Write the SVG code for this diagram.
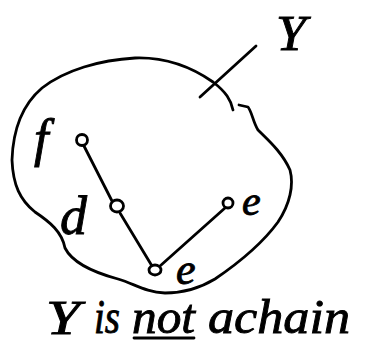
<svg xmlns="http://www.w3.org/2000/svg" width="367" height="350" viewBox="0 0 367 350">
<style>
.ln{fill:none;stroke:#000;stroke-width:2.8;stroke-linecap:round;stroke-linejoin:round}
.nd{fill:#fff;stroke:#000;stroke-width:2.8}
.t{font-family:"Liberation Serif",serif;font-style:italic;fill:#000;stroke:#000;stroke-width:0.9}
</style>
<rect width="367" height="350" fill="#fff"/>
<g id="setY">
<path class="ln" d="M233,110 C231,100 226,92 213,82 C190,66 165,57 135,58 C100,60 65,70 42,88 C22,105 13,130 12,160 C13,185 20,200 35,212 C50,222 62,232 65,248 C72,262 92,272 118,279 C135,284 145,292 165,293 C185,293 200,288 215,279 C240,262 262,244 278,222 C290,204 294,185 290,170 C282,152 268,140 258,130 C253,122 252,112 248,107 L239,105"/>
<path class="ln" d="M200,97 L256,46"/>
<text class="t" x="276" y="50" font-size="50" textLength="30" lengthAdjust="spacingAndGlyphs">Y</text>
</g>
<g id="connectors">
<path class="ln" d="M84,146 L112,201"/>
<path class="ln" d="M120,213 L152,266"/>
<path class="ln" d="M160,266 L225,208"/>
</g>
<g id="node-f">
<circle class="nd" cx="82" cy="140" r="5.5"/>
<text class="t" x="34" y="156" font-size="52">f</text>
</g>
<g id="node-d">
<ellipse class="nd" cx="117" cy="206" rx="6.5" ry="6"/>
<text class="t" x="60" y="234" font-size="54">d</text>
</g>
<g id="node-e-top">
<circle class="nd" cx="228" cy="203" r="5"/>
<text class="t" x="242" y="215" font-size="42">e</text>
</g>
<g id="node-e-bottom">
<ellipse class="nd" cx="155" cy="270" rx="6" ry="5"/>
<text class="t" x="176" y="284" font-size="44">e</text>
</g>
<g id="caption">
<text class="t" x="46" y="334" font-size="48" textLength="34" lengthAdjust="spacingAndGlyphs">Y</text>
<text class="t" x="94" y="333" font-size="48" textLength="26" lengthAdjust="spacingAndGlyphs">is</text>
<text class="t" x="132" y="333" font-size="48" textLength="63" lengthAdjust="spacingAndGlyphs">not</text>
<path class="ln" d="M134,338 L194,338"/>
<text class="t" x="208" y="333" font-size="48" textLength="142" lengthAdjust="spacingAndGlyphs">achain</text>
</g>
</svg>
